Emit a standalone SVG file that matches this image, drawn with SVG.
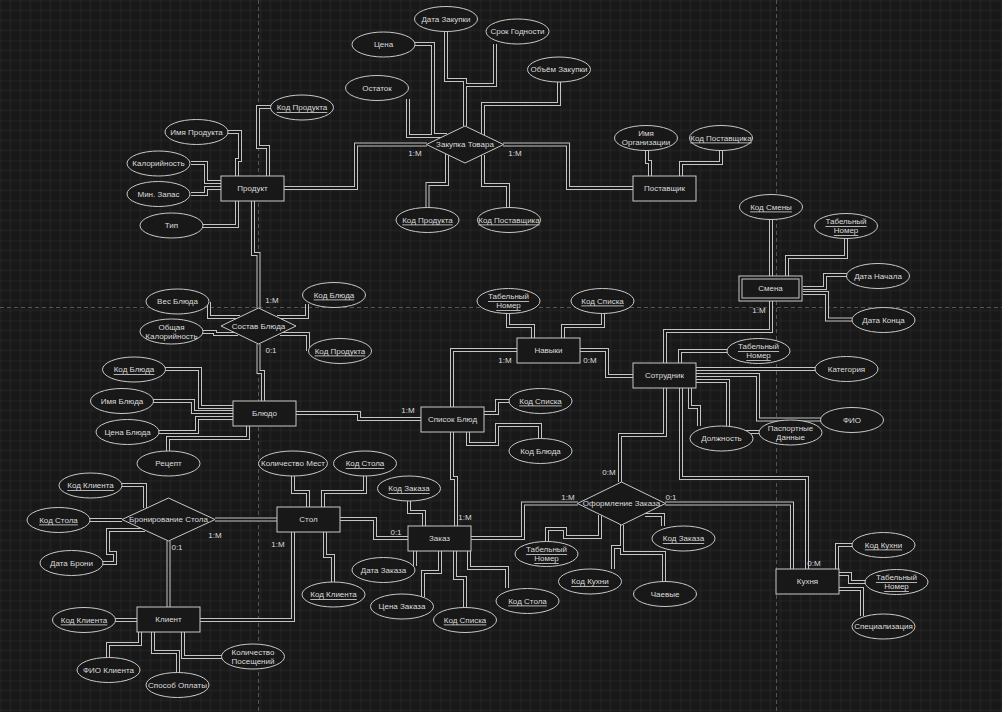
<svg xmlns="http://www.w3.org/2000/svg" xmlns:xlink="http://www.w3.org/1999/xlink" width="1002" height="712" viewBox="0 0 1002 712">
<style>
text{font-family:"Liberation Sans",Arial,sans-serif;font-size:8px;fill:#dcdcdc;text-anchor:middle;dominant-baseline:central}
.u{text-decoration:underline}
.n rect,.n ellipse,.n polygon{fill:#181818;stroke:#c8c8c8;stroke-width:1}
.lbl{fill:#cfcfcf}
</style>
<defs>
<pattern id="grid" width="40" height="40" patternUnits="userSpaceOnUse" x="0.5" y="0.5">
<path d="M10 0V40M20 0V40M30 0V40M0 10H40M0 20H40M0 30H40" stroke="#262626" stroke-width="1" fill="none"/>
<path d="M0 0V40M0 0H40" stroke="#303030" stroke-width="1" fill="none"/>
</pattern>
</defs>
<rect width="1002" height="712" fill="#181818"/>
<rect width="1002" height="712" fill="url(#grid)"/>
<g stroke="#555" stroke-dasharray="4 3" stroke-width="1">
<path d="M258.5 0V712M776.5 0V712M0 307.5H1002"/>
</g>

<g id="connectors" fill="none">
<g stroke="#c4c4c4" stroke-width="4">
<g id="E">
<path d="M271 107H258V147H268V176"/>
<path d="M228 132H240V160H237V176"/>
<path d="M191 163H206V182H221"/>
<path d="M191 194H206V188H221"/>
<path d="M203 226H237V201"/>
<path d="M284 188H356V144.5H427"/>
<path d="M253 201V254H258.5V308"/>
<path d="M415 44H433V135H447"/>
<path d="M408 99V136H446"/>
<path d="M446 31V80H465V126"/>
<path d="M495 44V85H465V126"/>
<path d="M559 82V104H483V135"/>
<path d="M503 144.5H568V188H633"/>
<path d="M447 154V184H427.5V207"/>
<path d="M483 155V185H508V207"/>
<path d="M647 150V162H650V176"/>
<path d="M721 150V163H681V176"/>
<path d="M771 219V276"/>
<path d="M846 238V257H787V276"/>
<path d="M803 288H825V275H847"/>
<path d="M803 293H827V319.5H852"/>
<path d="M771 301V331H665V363"/>
<path d="M665 388V435H620V482"/>
<path d="M727 351H680V363"/>
<path d="M696 369H815"/>
<path d="M696 375H758V419.5H821"/>
<path d="M696 381H728V432H759"/>
<path d="M690 388V407H699V426"/>
<path d="M681 388V478H807V569"/>
<path d="M665 503.5H792V569"/>
<path d="M580 350H607V376H633"/>
<path d="M508 313V326H533V338"/>
<path d="M603 313V326H563V338"/>
<path d="M517 350H452V478H456V526"/>
<path d="M296 413H359V419H421"/>
<path d="M484 413H497V401H509"/>
<path d="M468 432V444H497V425H540V438"/>
<path d="M209 302V317H240"/>
<path d="M203 332H215V334H238"/>
<path d="M277 317H307V304"/>
<path d="M280 334H308V351"/>
<path d="M258.5 344V372H263V401"/>
<path d="M165 369H200V407H233"/>
<path d="M153 401H193V412H233"/>
<path d="M159 432H197V418H233"/>
<path d="M168 451V438H248V426"/>
<path d="M122 485H145V508"/>
<path d="M90 520H122"/>
<path d="M103 563H115V553H108V530H145"/>
<path d="M215 519.5H277"/>
<path d="M168.5 541V607"/>
<path d="M115 620H137"/>
<path d="M108 657V644H140V632"/>
<path d="M178 672V652H153V632"/>
<path d="M222 657H183V632"/>
<path d="M200 620H293V532"/>
<path d="M293 476V492H308V507"/>
<path d="M365 476V492H323V507"/>
<path d="M325 532V556H333V582"/>
<path d="M340 519H375V538H408"/>
<path d="M409 501V512H424V526"/>
<path d="M415 566V551"/>
<path d="M423 597V572H440V551"/>
<path d="M465 607V578H455V551"/>
<path d="M507 588V568H469V551"/>
<path d="M471 538H523V503.5H578"/>
<path d="M547 542V529H565V537H600V515"/>
<path d="M663 526V515H645"/>
<path d="M613 569V547H622V525"/>
<path d="M664 582V553H622V525"/>
<path d="M852 545H837V569"/>
<path d="M838 574H850V582H865"/>
<path d="M838 589H862V616"/>
</g>
</g>
<use href="#E" xlink:href="#E" stroke="#181818" stroke-width="2"/>
</g>

<g id="labels" class="lbl">
<text x="415" y="153">1:M</text>
<text x="515" y="153">1:M</text>
<text x="759" y="310">1:M</text>
<text x="272" y="300">1:M</text>
<text x="271" y="350">0:1</text>
<text x="505" y="360">1:M</text>
<text x="590" y="360">0:M</text>
<text x="408" y="410">1:M</text>
<text x="215" y="535">1:M</text>
<text x="177" y="547">0:1</text>
<text x="278" y="544">1:M</text>
<text x="396" y="532">0:1</text>
<text x="465" y="517">1:M</text>
<text x="609" y="472">0:M</text>
<text x="568" y="497">1:M</text>
<text x="671" y="497">0:1</text>
<text x="814" y="563">0:M</text>
</g>

<g id="product" class="n"><rect x="221" y="176" width="63" height="25"/><text x="252.5" y="188.5">Продукт</text></g>
<g id="supplier" class="n"><rect x="633" y="176" width="63" height="25"/><text x="664.5" y="188.5">Поставщик</text></g>
<g id="shift" class="n"><rect x="739" y="276" width="63" height="25"/><rect x="742" y="279" width="57" height="19"/><text x="770.5" y="288.5">Смена</text></g>
<g id="skills" class="n"><rect x="517" y="338" width="63" height="25"/><text x="548.5" y="350.5">Навыки</text></g>
<g id="employee" class="n"><rect x="633" y="363" width="63" height="25"/><text x="664.5" y="375.5">Сотрудник</text></g>
<g id="dish" class="n"><rect x="233" y="401" width="63" height="25"/><text x="264.5" y="413.5">Блюдо</text></g>
<g id="dishlist" class="n"><rect x="421" y="407" width="63" height="25"/><text x="452.5" y="419.5">Список Блюд</text></g>
<g id="table" class="n"><rect x="277" y="507" width="63" height="25"/><text x="308.5" y="519.5">Стол</text></g>
<g id="order" class="n"><rect x="408" y="526" width="63" height="25"/><text x="439.5" y="538.5">Заказ</text></g>
<g id="client" class="n"><rect x="137" y="607" width="63" height="25"/><text x="168.5" y="619.5">Клиент</text></g>
<g id="kitchen" class="n"><rect x="776" y="569" width="63" height="25"/><text x="807.5" y="581.5">Кухня</text></g>

<g id="purchase" class="n"><polygon points="426.5,144.5 465,126 503.5,144.5 465,163"/><text x="465" y="144.5">Закупка Товара</text></g>
<g id="composition" class="n"><polygon points="221,326 258.5,308 296,326 258.5,344"/><text x="258.5" y="326">Состав Блюда</text></g>
<g id="booking" class="n"><polygon points="122,519.5 168.5,498 215,519.5 168.5,541"/><text x="168.5" y="519.5">Бронирование Стола</text></g>
<g id="ordering" class="n"><polygon points="577.5,503.5 621.5,482 665.5,503.5 621.5,525"/><text x="621.5" y="503.5">Оформление Заказа</text></g>

<g id="a1" class="n"><ellipse cx="302" cy="107.5" rx="31.5" ry="12.5"/><text class="u" x="302" y="107.5">Код Продукта</text></g>
<g id="a2" class="n"><ellipse cx="196.5" cy="132" rx="31.5" ry="12.5"/><text x="196.5" y="132">Имя Продукта</text></g>
<g id="a3" class="n"><ellipse cx="158.5" cy="163.5" rx="31.5" ry="12.5"/><text x="158.5" y="163.5">Калорийность</text></g>
<g id="a4" class="n"><ellipse cx="158.5" cy="194" rx="31.5" ry="12.5"/><text x="158.5" y="194">Мин. Запас</text></g>
<g id="a5" class="n"><ellipse cx="171.5" cy="225.5" rx="31.5" ry="12.5"/><text x="171.5" y="225.5">Тип</text></g>
<g id="a6" class="n"><ellipse cx="383.5" cy="44.5" rx="31.5" ry="12.5"/><text x="383.5" y="44.5">Цена</text></g>
<g id="a7" class="n"><ellipse cx="377" cy="88" rx="31.5" ry="12.5"/><text x="377" y="88">Остаток</text></g>
<g id="a8" class="n"><ellipse cx="446" cy="19" rx="31.5" ry="12.5"/><text x="446" y="19">Дата Закупки</text></g>
<g id="a9" class="n"><ellipse cx="517.5" cy="31.5" rx="31.5" ry="12.5"/><text x="517.5" y="31.5">Срок Годности</text></g>
<g id="a10" class="n"><ellipse cx="559" cy="69.5" rx="31.5" ry="12.5"/><text x="559" y="69.5">Объём Закупки</text></g>
<g id="a11" class="n"><ellipse cx="427.5" cy="220" rx="31.5" ry="12.5"/><text class="u" x="427.5" y="220">Код Продукта</text></g>
<g id="a12" class="n"><ellipse cx="509" cy="220" rx="31.5" ry="12.5"/><text class="u" x="509" y="220">Код Поставщика</text></g>
<g id="a13" class="n"><ellipse cx="646" cy="138" rx="31.5" ry="12.5"/><text x="646" y="133.5">Имя</text><text x="646" y="142.5">Организации</text></g>
<g id="a14" class="n"><ellipse cx="721" cy="138" rx="31.5" ry="12.5"/><text class="u" x="721" y="138">Код Поставщика</text></g>
<g id="a15" class="n"><ellipse cx="771" cy="207" rx="31.5" ry="12.5"/><text class="u" x="771" y="207">Код Смены</text></g>
<g id="a16" class="n"><ellipse cx="846" cy="226" rx="31.5" ry="12.5"/><text class="u" x="846" y="221.5">Табельный</text><text class="u" x="846" y="230.5">Номер</text></g>
<g id="a17" class="n"><ellipse cx="878" cy="276" rx="31.5" ry="12.5"/><text x="878" y="276">Дата Начала</text></g>
<g id="a18" class="n"><ellipse cx="883.5" cy="320" rx="31.5" ry="12.5"/><text x="883.5" y="320">Дата Конца</text></g>
<g id="a19" class="n"><ellipse cx="508.5" cy="301" rx="31.5" ry="12.5"/><text class="u" x="508.5" y="296.5">Табельный</text><text class="u" x="508.5" y="305.5">Номер</text></g>
<g id="a20" class="n"><ellipse cx="602.5" cy="301" rx="31.5" ry="12.5"/><text class="u" x="602.5" y="301">Код Списка</text></g>
<g id="a21" class="n"><ellipse cx="177.5" cy="301.5" rx="31.5" ry="12.5"/><text x="177.5" y="301.5">Вес Блюда</text></g>
<g id="a22" class="n"><ellipse cx="171.5" cy="331.5" rx="31.5" ry="12.5"/><text x="171.5" y="327">Общая</text><text x="171.5" y="336">Калорийность</text></g>
<g id="a23" class="n"><ellipse cx="334" cy="295" rx="31.5" ry="12.5"/><text class="u" x="334" y="295">Код Блюда</text></g>
<g id="a24" class="n"><ellipse cx="340" cy="351" rx="31.5" ry="12.5"/><text class="u" x="340" y="351">Код Продукта</text></g>
<g id="a25" class="n"><ellipse cx="134" cy="369.5" rx="31.5" ry="12.5"/><text class="u" x="134" y="369.5">Код Блюда</text></g>
<g id="a26" class="n"><ellipse cx="122" cy="401" rx="31.5" ry="12.5"/><text x="122" y="401">Имя Блюда</text></g>
<g id="a27" class="n"><ellipse cx="127.5" cy="432" rx="31.5" ry="12.5"/><text x="127.5" y="432">Цена Блюда</text></g>
<g id="a28" class="n"><ellipse cx="168.5" cy="463.5" rx="31.5" ry="12.5"/><text x="168.5" y="463.5">Рецепт</text></g>
<g id="a29" class="n"><ellipse cx="540.5" cy="401" rx="31.5" ry="12.5"/><text class="u" x="540.5" y="401">Код Списка</text></g>
<g id="a30" class="n"><ellipse cx="540.5" cy="451" rx="31.5" ry="12.5"/><text x="540.5" y="451">Код Блюда</text></g>
<g id="a31" class="n"><ellipse cx="758.5" cy="351" rx="31.5" ry="12.5"/><text class="u" x="758.5" y="346.5">Табельный</text><text class="u" x="758.5" y="355.5">Номер</text></g>
<g id="a32" class="n"><ellipse cx="846.5" cy="369" rx="31.5" ry="12.5"/><text x="846.5" y="369">Категория</text></g>
<g id="a33" class="n"><ellipse cx="852" cy="420" rx="31.5" ry="12.5"/><text x="852" y="420">ФИО</text></g>
<g id="a34" class="n"><ellipse cx="721.5" cy="438.5" rx="31.5" ry="12.5"/><text x="721.5" y="438.5">Должность</text></g>
<g id="a35" class="n"><ellipse cx="790.5" cy="432.5" rx="31.5" ry="12.5"/><text x="790.5" y="428">Паспортные</text><text x="790.5" y="437">Данные</text></g>
<g id="a36" class="n"><ellipse cx="293" cy="463.5" rx="34.5" ry="12.5"/><text x="293" y="463.5">Количество Мест</text></g>
<g id="a37" class="n"><ellipse cx="365" cy="463.5" rx="31.5" ry="12.5"/><text class="u" x="365" y="463.5">Код Стола</text></g>
<g id="a38" class="n"><ellipse cx="90.5" cy="485.5" rx="31.5" ry="12.5"/><text class="u" x="90.5" y="485.5">Код Клиента</text></g>
<g id="a39" class="n"><ellipse cx="58.5" cy="520" rx="31.5" ry="12.5"/><text class="u" x="58.5" y="520">Код Стола</text></g>
<g id="a40" class="n"><ellipse cx="71.5" cy="563" rx="31.5" ry="12.5"/><text x="71.5" y="563">Дата Брони</text></g>
<g id="a41" class="n"><ellipse cx="84" cy="620" rx="31.5" ry="12.5"/><text class="u" x="84" y="620">Код Клиента</text></g>
<g id="a42" class="n"><ellipse cx="108.5" cy="670" rx="31.5" ry="12.5"/><text x="108.5" y="670">ФИО Клиента</text></g>
<g id="a43" class="n"><ellipse cx="177.5" cy="685" rx="31.5" ry="12.5"/><text x="177.5" y="685">Способ Оплаты</text></g>
<g id="a44" class="n"><ellipse cx="253" cy="656.5" rx="31.5" ry="12.5"/><text x="253" y="652">Количество</text><text x="253" y="661">Посещений</text></g>
<g id="a45" class="n"><ellipse cx="333.5" cy="594.5" rx="31.5" ry="12.5"/><text class="u" x="333.5" y="594.5">Код Клиента</text></g>
<g id="a46" class="n"><ellipse cx="409" cy="488.5" rx="31.5" ry="12.5"/><text class="u" x="409" y="488.5">Код Заказа</text></g>
<g id="a47" class="n"><ellipse cx="383.5" cy="570" rx="31.5" ry="12.5"/><text x="383.5" y="570">Дата Заказа</text></g>
<g id="a48" class="n"><ellipse cx="402" cy="606.5" rx="31.5" ry="12.5"/><text x="402" y="606.5">Цена Заказа</text></g>
<g id="a49" class="n"><ellipse cx="465" cy="620" rx="31.5" ry="12.5"/><text class="u" x="465" y="620">Код Списка</text></g>
<g id="a50" class="n"><ellipse cx="527.5" cy="601" rx="31.5" ry="12.5"/><text class="u" x="527.5" y="601">Код Стола</text></g>
<g id="a51" class="n"><ellipse cx="546.5" cy="554" rx="31.5" ry="12.5"/><text class="u" x="546.5" y="549.5">Табельный</text><text class="u" x="546.5" y="558.5">Номер</text></g>
<g id="a52" class="n"><ellipse cx="683.5" cy="538.5" rx="31.5" ry="12.5"/><text class="u" x="683.5" y="538.5">Код Заказа</text></g>
<g id="a53" class="n"><ellipse cx="590" cy="581.5" rx="31.5" ry="12.5"/><text class="u" x="590" y="581.5">Код Кухни</text></g>
<g id="a54" class="n"><ellipse cx="665" cy="594" rx="31.5" ry="12.5"/><text x="665" y="594">Чаевые</text></g>
<g id="a55" class="n"><ellipse cx="883.5" cy="545" rx="31.5" ry="12.5"/><text class="u" x="883.5" y="545">Код Кухни</text></g>
<g id="a56" class="n"><ellipse cx="896.5" cy="582" rx="31.5" ry="12.5"/><text class="u" x="896.5" y="577.5">Табельный</text><text class="u" x="896.5" y="586.5">Номер</text></g>
<g id="a57" class="n"><ellipse cx="883.5" cy="626.5" rx="31.5" ry="12.5"/><text x="883.5" y="626.5">Специализация</text></g>
</svg>
